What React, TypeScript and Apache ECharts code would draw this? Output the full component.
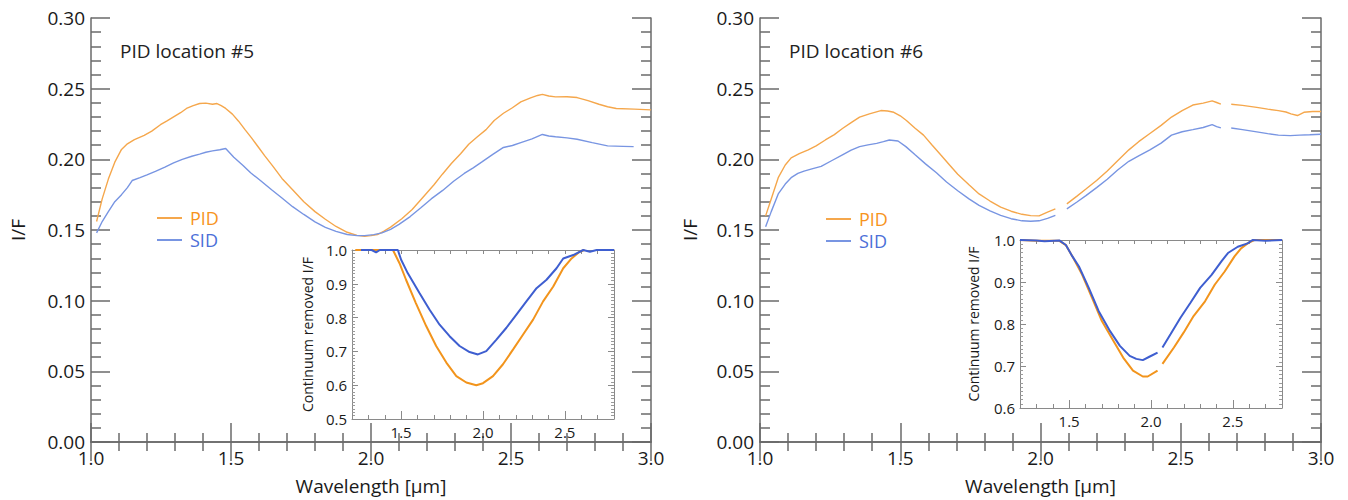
import React, { useEffect, useRef } from "react";
import * as echarts from "echarts";

// ---- data (wavelength µm, I/F) ----
const pid5: (number | null)[][] = [
  [1.02, 0.156], [1.04, 0.172], [1.062, 0.186], [1.085, 0.198], [1.109, 0.207], [1.13, 0.211], [1.155, 0.214],
  [1.19, 0.217], [1.217, 0.22], [1.248, 0.2245], [1.27, 0.227], [1.295, 0.23], [1.32, 0.233], [1.341, 0.236],
  [1.365, 0.238], [1.388, 0.2395], [1.41, 0.2398], [1.434, 0.239], [1.45, 0.2395], [1.465, 0.238], [1.481, 0.236],
  [1.505, 0.232], [1.527, 0.227], [1.55, 0.221], [1.574, 0.215], [1.6, 0.208], [1.62, 0.2026], [1.65, 0.195],
  [1.682, 0.1865], [1.72, 0.1785], [1.76, 0.17], [1.8, 0.163], [1.837, 0.1576], [1.875, 0.1525], [1.915, 0.1484],
  [1.95, 0.1462], [1.977, 0.1456], [2.0, 0.146], [2.023, 0.1468], [2.045, 0.149], [2.07, 0.152], [2.11, 0.158],
  [2.147, 0.1645], [2.185, 0.173], [2.225, 0.182], [2.255, 0.1895], [2.287, 0.197], [2.32, 0.204], [2.349, 0.2107],
  [2.38, 0.216], [2.411, 0.221], [2.44, 0.2275], [2.473, 0.2326], [2.505, 0.2365], [2.535, 0.2407], [2.57, 0.2435],
  [2.595, 0.2452], [2.612, 0.246], [2.635, 0.2448], [2.659, 0.2442], [2.7, 0.2443], [2.736, 0.2437], [2.775, 0.2415],
  [2.814, 0.239], [2.845, 0.2372], [2.876, 0.236], [2.94, 0.2355], [3.0, 0.235],
];
const sid5: (number | null)[][] = [
  [1.02, 0.148], [1.04, 0.156], [1.062, 0.163], [1.085, 0.17], [1.109, 0.175], [1.13, 0.18], [1.147, 0.185],
  [1.175, 0.187], [1.2, 0.189], [1.23, 0.1915], [1.264, 0.1945], [1.295, 0.1975], [1.326, 0.2], [1.36, 0.2022],
  [1.388, 0.2037], [1.41, 0.205], [1.434, 0.206], [1.46, 0.2068], [1.481, 0.2077], [1.51, 0.2015], [1.543, 0.1957],
  [1.57, 0.1905], [1.605, 0.185], [1.645, 0.1785], [1.682, 0.1726], [1.72, 0.1665], [1.76, 0.161], [1.8, 0.1558],
  [1.837, 0.1518], [1.875, 0.149], [1.915, 0.1468], [1.95, 0.146], [1.977, 0.146], [2.01, 0.1467], [2.039, 0.148],
  [2.07, 0.1505], [2.1, 0.154], [2.14, 0.1595], [2.178, 0.1657], [2.215, 0.172], [2.256, 0.178], [2.295, 0.1845],
  [2.333, 0.19], [2.365, 0.194], [2.395, 0.198], [2.435, 0.2035], [2.473, 0.2084], [2.505, 0.2098], [2.535, 0.2118],
  [2.575, 0.2145], [2.612, 0.2176], [2.635, 0.2165], [2.659, 0.216], [2.7, 0.2152], [2.736, 0.2142], [2.79, 0.2118],
  [2.845, 0.2095], [2.9, 0.2092], [2.938, 0.209],
];
const pid6: (number | null)[][] = [
  [1.02, 0.16], [1.04, 0.172], [1.065, 0.187], [1.09, 0.196], [1.111, 0.201], [1.14, 0.204], [1.172, 0.2067],
  [1.2, 0.2095], [1.233, 0.2137], [1.265, 0.2175], [1.294, 0.2218], [1.325, 0.226], [1.355, 0.2299], [1.39, 0.2322],
  [1.431, 0.2345], [1.455, 0.2342], [1.477, 0.2333], [1.5, 0.2308], [1.522, 0.2275], [1.553, 0.222], [1.583, 0.2171],
  [1.614, 0.21], [1.644, 0.2032], [1.675, 0.1962], [1.705, 0.1894], [1.745, 0.182], [1.781, 0.1755], [1.82, 0.1705],
  [1.858, 0.1662], [1.895, 0.1633], [1.934, 0.1611], [1.965, 0.1602], [1.995, 0.16], [2.025, 0.1627], [2.053, 0.165],
  [2.07, null],
  [2.094, 0.1685], [2.13, 0.174], [2.162, 0.179], [2.2, 0.185], [2.238, 0.1917], [2.275, 0.199], [2.315, 0.2067],
  [2.35, 0.2125], [2.39, 0.2183], [2.43, 0.224], [2.467, 0.2299], [2.505, 0.2345], [2.543, 0.2384], [2.58, 0.2398],
  [2.612, 0.2414], [2.628, 0.2402], [2.643, 0.239],
  [2.66, null],
  [2.68, 0.239], [2.72, 0.2382], [2.771, 0.2368], [2.81, 0.2355], [2.848, 0.2345], [2.875, 0.2335], [2.893, 0.2322],
  [2.916, 0.231], [2.939, 0.2333], [2.97, 0.2338], [3.0, 0.2338],
];
const sid6: (number | null)[][] = [
  [1.02, 0.1523], [1.04, 0.163], [1.065, 0.1755], [1.09, 0.1825], [1.111, 0.187], [1.135, 0.19], [1.157, 0.1917],
  [1.185, 0.1932], [1.218, 0.195], [1.255, 0.199], [1.294, 0.2032], [1.325, 0.2065], [1.355, 0.209], [1.385, 0.2102],
  [1.416, 0.2113], [1.44, 0.2125], [1.461, 0.2137], [1.492, 0.213], [1.52, 0.209], [1.553, 0.2032], [1.59, 0.1968],
  [1.629, 0.1905], [1.665, 0.184], [1.705, 0.1778], [1.745, 0.172], [1.781, 0.1674], [1.82, 0.1635], [1.858, 0.1604],
  [1.895, 0.158], [1.934, 0.1565], [1.965, 0.1562], [1.995, 0.1565], [2.025, 0.1582], [2.053, 0.1604],
  [2.07, null],
  [2.094, 0.165], [2.13, 0.1698], [2.162, 0.1743], [2.2, 0.18], [2.238, 0.1859], [2.275, 0.1925], [2.315, 0.1986],
  [2.35, 0.2025], [2.39, 0.2067], [2.43, 0.2115], [2.467, 0.2171], [2.505, 0.2195], [2.543, 0.221], [2.58, 0.2225],
  [2.612, 0.2245], [2.628, 0.2232], [2.643, 0.2222],
  [2.66, null],
  [2.68, 0.2222], [2.72, 0.221], [2.771, 0.2194], [2.81, 0.2182], [2.848, 0.2171], [2.89, 0.2168], [2.924, 0.2171],
  [2.96, 0.2174], [3.0, 0.2178],
];

// continuum removed (insets)
const pid5cr: (number | null)[][] = [
  [1.22, 1.0], [1.3, 1.0], [1.4, 1.0], [1.45, 1.0], [1.49, 0.961], [1.53, 0.912], [1.59, 0.843], [1.653, 0.775],
  [1.714, 0.716], [1.776, 0.667], [1.837, 0.627], [1.898, 0.608], [1.959, 0.6], [2.0, 0.606], [2.061, 0.627],
  [2.122, 0.662], [2.184, 0.706], [2.245, 0.75], [2.306, 0.794], [2.367, 0.848], [2.429, 0.892], [2.49, 0.946],
  [2.541, 0.975], [2.59, 0.995], [2.62, 1.0],
];
const sid5cr: (number | null)[][] = [
  [1.255, 1.0], [1.32, 1.0], [1.347, 0.993], [1.37, 1.0], [1.48, 1.0], [1.5, 0.971], [1.541, 0.931], [1.612, 0.873],
  [1.673, 0.824], [1.735, 0.779], [1.796, 0.745], [1.857, 0.716], [1.918, 0.698], [1.969, 0.691], [2.02, 0.701],
  [2.082, 0.735], [2.143, 0.77], [2.204, 0.809], [2.265, 0.848], [2.327, 0.887], [2.388, 0.912], [2.449, 0.946],
  [2.49, 0.975], [2.551, 0.985], [2.612, 1.0], [2.653, 0.995], [2.694, 1.0], [2.8, 1.0],
];
const pid6cr: (number | null)[][] = [
  [1.2, 1.0], [1.3, 0.998], [1.44, 0.998], [1.48, 0.988], [1.52, 0.961], [1.58, 0.917], [1.64, 0.862], [1.7, 0.807],
  [1.77, 0.76], [1.83, 0.72], [1.89, 0.689], [1.95, 0.675], [1.98, 0.675], [2.04, 0.689],
  [2.055, null],
  [2.07, 0.705], [2.14, 0.744], [2.2, 0.78], [2.26, 0.819], [2.33, 0.854], [2.39, 0.894], [2.45, 0.925], [2.51, 0.961],
  [2.55, 0.98], [2.59, 0.992], [2.63, 1.0], [2.8, 1.0],
];
const sid6cr: (number | null)[][] = [
  [1.2, 1.0], [1.3, 0.999], [1.35, 0.997], [1.44, 0.999], [1.48, 0.988], [1.52, 0.961], [1.56, 0.937], [1.62, 0.886],
  [1.68, 0.831], [1.75, 0.783], [1.81, 0.748], [1.87, 0.724], [1.91, 0.717], [1.95, 0.714], [1.99, 0.722], [2.04, 0.732],
  [2.055, null],
  [2.07, 0.744], [2.12, 0.776], [2.18, 0.815], [2.24, 0.85], [2.3, 0.886], [2.37, 0.917], [2.43, 0.949], [2.47, 0.969],
  [2.53, 0.984], [2.59, 0.992], [2.62, 1.0], [2.7, 0.998], [2.8, 1.0],
];

const seriesNames = ["PID", "SID"];
const panelTitles = ["PID location #5", "PID location #6"];
const mainXTicks = [1.0, 1.5, 2.0, 2.5, 3.0];
const insetMajorX = [1.5, 2.0, 2.5];

const FONT = "Open Sans";
const AXIS_COLOR = "#6a6a6a";
const ORANGE_MAIN = "#F5A74C";
const BLUE_MAIN = "#7895E2";
const ORANGE_INSET = "#F2941C";
const BLUE_INSET = "#3E5ED0";
const ORANGE_TEXT = "#F7941D";
const BLUE_TEXT = "#4C6FD8";

export default function App() {
  const ref = useRef<HTMLDivElement>(null);

  useEffect(() => {
    if (!ref.current) return;
    const chart = echarts.init(ref.current, undefined, { renderer: "svg" });

    const mains = [
      { left: 91, top: 18, width: 560, height: 432, nameGap: 64 },
      { left: 760, top: 18, width: 561, height: 432, nameGap: 61 },
    ];
    const insets = [
      { left: 352, top: 250, width: 262, height: 169, ymin: 0.5, nameGap: 38 },
      { left: 1020, top: 240, width: 262, height: 168, ymin: 0.6, nameGap: 40 },
    ];

    const grids: any[] = [];
    const xAxes: any[] = [];
    const yAxes: any[] = [];
    const series: any[] = [];

    const mainLine = { show: true, lineStyle: { color: AXIS_COLOR, width: 1.5 } };
    const insetLine = { show: true, lineStyle: { color: "#8a8a8a", width: 1 } };

    const mainData = [
      [pid5, sid5],
      [pid6, sid6],
    ];
    const insetData = [
      [pid5cr, sid5cr],
      [pid6cr, sid6cr],
    ];

    for (let p = 0; p < 2; p++) {
      const m = mains[p];
      const gi = grids.length;
      grids.push({ left: m.left, top: m.top, width: m.width, height: m.height, z: 0 });
      const xb = xAxes.length;
      xAxes.push({
        type: "value", gridIndex: gi, position: "bottom", min: 1, max: 3, interval: 0.5,
        axisLine: mainLine,
        axisTick: { show: true, inside: true, length: 19, lineStyle: { color: AXIS_COLOR, width: 1.5 } },
        minorTick: { show: true, splitNumber: 5, length: 9, lineStyle: { color: AXIS_COLOR, width: 1.5 } },
        splitLine: { show: false },
        axisLabel: {
          fontFamily: FONT, fontSize: 19, color: "#1a1a1a", margin: 6,
          customValues: mainXTicks,
          formatter: (v: number) => v.toFixed(1),
        },
        name: "Wavelength [µm]", nameLocation: "middle", nameGap: 34,
        nameTextStyle: { fontFamily: FONT, fontSize: 19, color: "#1a1a1a" },
      });
      xAxes.push({
        type: "value", gridIndex: gi, position: "top", min: 1, max: 3, interval: 0.5,
        axisLine: mainLine,
        axisTick: { show: true, inside: true, length: 19, lineStyle: { color: AXIS_COLOR, width: 1.5 } },
        minorTick: { show: true, splitNumber: 5, length: 9, lineStyle: { color: AXIS_COLOR, width: 1.5 } },
        splitLine: { show: false }, axisLabel: { show: false },
      });
      const yb = yAxes.length;
      yAxes.push({
        type: "value", gridIndex: gi, position: "left", min: 0, max: 0.3, interval: 0.05,
        axisLine: mainLine,
        axisTick: { show: true, inside: true, length: 19, lineStyle: { color: AXIS_COLOR, width: 1.5 } },
        minorTick: { show: true, splitNumber: 5, length: 10, lineStyle: { color: AXIS_COLOR, width: 1.5 } },
        splitLine: { show: false },
        axisLabel: { fontFamily: FONT, fontSize: 19, color: "#1a1a1a", margin: 6, formatter: (v: number) => v.toFixed(2) },
        name: "I/F", nameLocation: "middle", nameGap: m.nameGap, nameRotate: 90,
        nameTextStyle: { fontFamily: FONT, fontSize: 19, color: "#1a1a1a" },
      });
      yAxes.push({
        type: "value", gridIndex: gi, position: "right", min: 0, max: 0.3, interval: 0.05,
        axisLine: mainLine,
        axisTick: { show: true, inside: true, length: 19, lineStyle: { color: AXIS_COLOR, width: 1.5 } },
        minorTick: { show: true, splitNumber: 5, length: 10, lineStyle: { color: AXIS_COLOR, width: 1.5 } },
        splitLine: { show: false }, axisLabel: { show: false },
      });
      series.push({
        name: seriesNames[0], type: "line", xAxisIndex: xb, yAxisIndex: yb, data: mainData[p][0],
        showSymbol: false, symbol: "none", connectNulls: false, z: 2,
        lineStyle: { color: ORANGE_MAIN, width: 1.4 }, itemStyle: { color: ORANGE_MAIN },
      });
      series.push({
        name: seriesNames[1], type: "line", xAxisIndex: xb, yAxisIndex: yb, data: mainData[p][1],
        showSymbol: false, symbol: "none", connectNulls: false, z: 2,
        lineStyle: { color: BLUE_MAIN, width: 1.4 }, itemStyle: { color: BLUE_MAIN },
      });

      // inset
      const ins = insets[p];
      const ii = grids.length;
      grids.push({
        left: ins.left, top: ins.top, width: ins.width, height: ins.height, z: 5,
        show: true, backgroundColor: "#ffffff", borderWidth: 0,
      });
      const xi = xAxes.length;
      xAxes.push({
        type: "value", gridIndex: ii, position: "bottom", min: 1.2, max: 2.8, interval: 0.1, z: 6,
        axisLine: insetLine,
        axisTick: { show: true, inside: true, length: 4, lineStyle: { color: "#8a8a8a" } },
        splitLine: { show: false },
        axisLabel: {
          fontFamily: FONT, fontSize: 15, color: "#1a1a1a", margin: 5,
          customValues: insetMajorX,
          formatter: (v: number) => v.toFixed(1),
        },
      });
      xAxes.push({
        type: "value", gridIndex: ii, position: "bottom", min: 1.2, max: 2.8, z: 6,
        axisLine: { show: false },
        axisTick: { show: true, inside: true, length: 8, customValues: insetMajorX, lineStyle: { color: "#8a8a8a" } },
        splitLine: { show: false }, axisLabel: { show: false },
      });
      xAxes.push({
        type: "value", gridIndex: ii, position: "top", min: 1.2, max: 2.8, interval: 0.1, z: 6,
        axisLine: insetLine,
        axisTick: { show: true, inside: true, length: 4, lineStyle: { color: "#8a8a8a" } },
        splitLine: { show: false }, axisLabel: { show: false },
      });
      const yi = yAxes.length;
      yAxes.push({
        type: "value", gridIndex: ii, position: "left", min: ins.ymin, max: 1.0, interval: 0.1, z: 6,
        axisLine: insetLine,
        axisTick: { show: true, inside: true, length: 6, lineStyle: { color: "#8a8a8a" } },
        minorTick: { show: true, splitNumber: 10, length: 3, lineStyle: { color: "#9a9a9a" } },
        splitLine: { show: false },
        axisLabel: { fontFamily: FONT, fontSize: 15, color: "#1a1a1a", margin: 5, formatter: (v: number) => v.toFixed(1) },
        name: "Continuum removed I/F", nameLocation: "middle", nameGap: ins.nameGap, nameRotate: 90,
        nameTextStyle: { fontFamily: FONT, fontSize: 14, color: "#1a1a1a" },
      });
      yAxes.push({
        type: "value", gridIndex: ii, position: "right", min: ins.ymin, max: 1.0, interval: 0.1, z: 6,
        axisLine: insetLine,
        axisTick: { show: true, inside: true, length: 6, lineStyle: { color: "#8a8a8a" } },
        minorTick: { show: true, splitNumber: 10, length: 3, lineStyle: { color: "#9a9a9a" } },
        splitLine: { show: false }, axisLabel: { show: false },
      });
      series.push({
        name: seriesNames[0] + " continuum removed", type: "line", xAxisIndex: xi, yAxisIndex: yi,
        data: insetData[p][0], showSymbol: false, symbol: "none", connectNulls: false, z: 7,
        lineStyle: { color: ORANGE_INSET, width: 2 }, itemStyle: { color: ORANGE_INSET },
      });
      series.push({
        name: seriesNames[1] + " continuum removed", type: "line", xAxisIndex: xi, yAxisIndex: yi,
        data: insetData[p][1], showSymbol: false, symbol: "none", connectNulls: false, z: 8,
        lineStyle: { color: BLUE_INSET, width: 2 }, itemStyle: { color: BLUE_INSET },
      });
    }

    const legendFor = (left: number, top: number) => ({
      show: true, orient: "vertical", left, top, itemWidth: 25, itemHeight: 2, itemGap: 4, selectedMode: false,
      icon: "rect",
      data: [
        { name: seriesNames[0], itemStyle: { color: ORANGE_MAIN }, textStyle: { color: ORANGE_TEXT } },
        { name: seriesNames[1], itemStyle: { color: BLUE_MAIN }, textStyle: { color: BLUE_TEXT } },
      ],
      textStyle: { fontFamily: FONT, fontSize: 18, padding: [0, 0, 0, 3] },
    });

    chart.setOption({
      animation: false,
      backgroundColor: "#ffffff",
      grid: grids,
      xAxis: xAxes,
      yAxis: yAxes,
      series,
      legend: [legendFor(152, 204), legendFor(821, 205)],
      graphic: [
        { type: "text", left: 120, top: 41, style: { text: panelTitles[0], fontFamily: FONT, fontSize: 19, fill: "#222" } },
        { type: "text", left: 789, top: 41, style: { text: panelTitles[1], fontFamily: FONT, fontSize: 19, fill: "#222" } },
      ],
    });

    return () => chart.dispose();
  }, []);

  return <div ref={ref} style={{ position: "fixed", left: 0, top: 0, width: 1348, height: 500 }} />;
}
